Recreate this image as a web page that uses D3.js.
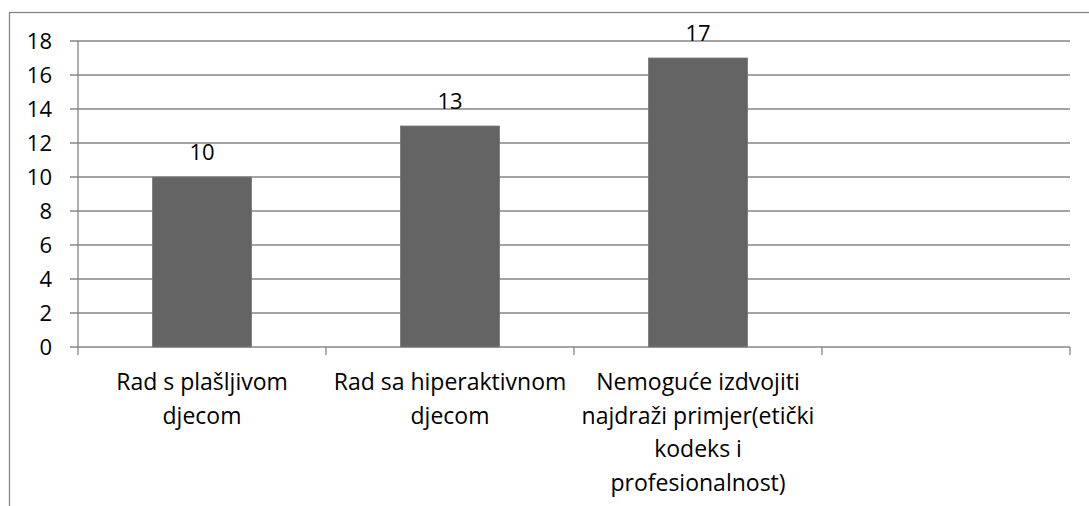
<!DOCTYPE html>
<html lang="hr">
<head>
  <meta charset="UTF-8">
  <title>Najdraži primjer</title>
  <script src="https://d3js.org/d3.v7.min.js"></script>
  <style>
    body { margin: 0; background: #fff; font-family: "Open Sans", sans-serif; }
    svg text { fill: #000; }
  </style>
</head>
<body>
  <svg id="chart" width="1089" height="506"></svg>
  <script>
    // categories (4th slot is empty in the original chart)
    const categories = ["c1", "c2", "c3", "c4"];
    const categoryLabels = [
      ["Rad s plašljivom", "djecom"],
      ["Rad sa hiperaktivnom", "djecom"],
      ["Nemoguće izdvojiti", "najdraži primjer(etički", "kodeks i", "profesionalnost)"],
      []
    ];
    const values = [10, 13, 17, null];
    const yTicks = [0, 2, 4, 6, 8, 10, 12, 14, 16, 18];

    const svg = d3.select("#chart");
    const grey = "#868686";
    const margin = { left: 78, right: 19, top: 41, bottom: 159 };
    const width = 1089 - margin.left - margin.right;
    const height = 506 - margin.top - margin.bottom;

    // outer frame, cropped at right and bottom
    svg.append("rect")
      .attr("x", 9.5).attr("y", 12.5)
      .attr("width", 1200).attr("height", 700)
      .attr("fill", "none").attr("stroke", grey).attr("stroke-width", 1.3);

    const g = svg.append("g")
      .attr("transform", "translate(" + margin.left + "," + margin.top + ")");

    const x = d3.scaleBand().domain(categories).range([0, width]).paddingInner(0.6).paddingOuter(0.3);
    const xOuter = d3.scaleBand().domain(categories).range([0, width]);
    const y = d3.scaleLinear().domain([0, 18]).range([height, 0]);

    // gridlines + y tick marks
    g.selectAll(".grid")
      .data(yTicks)
      .enter().append("line")
      .attr("x1", -8).attr("x2", width)
      .attr("y1", d => y(d)).attr("y2", d => y(d))
      .attr("stroke", grey).attr("stroke-width", 1.3);

    g.selectAll(".ylab")
      .data(yTicks)
      .enter().append("text")
      .attr("x", -26).attr("y", d => y(d))
      .attr("dy", "0.36em")
      .attr("text-anchor", "end")
      .style("font-size", "22px")
      .text(d => d);

    // y axis line
    g.append("line")
      .attr("x1", 0).attr("x2", 0).attr("y1", 0).attr("y2", height)
      .attr("stroke", grey).attr("stroke-width", 1.3);

    // x category ticks
    const xTickPos = categories.map(c => xOuter(c)).concat([width]);
    g.selectAll(".xtick")
      .data(xTickPos)
      .enter().append("line")
      .attr("x1", d => d).attr("x2", d => d)
      .attr("y1", height).attr("y2", height + 8)
      .attr("stroke", grey).attr("stroke-width", 1.3);

    // bars
    const data = categories.map((c, i) => ({ c, v: values[i] })).filter(d => d.v !== null);
    g.selectAll(".bar")
      .data(data)
      .enter().append("rect")
      .attr("x", d => x(d.c))
      .attr("width", x.bandwidth())
      .attr("y", d => y(d.v))
      .attr("height", d => height - y(d.v))
      .attr("fill", "#646464")
      .attr("stroke", "#7a7a7a")
      .attr("stroke-width", 0.8);

    // value labels
    g.selectAll(".val")
      .data(data)
      .enter().append("text")
      .attr("x", d => x(d.c) + x.bandwidth() / 2)
      .attr("y", d => y(d.v) - 25)
      .attr("dy", "0.36em")
      .attr("text-anchor", "middle")
      .style("font-size", "22px")
      .text(d => d.v);

    // category labels
    categories.forEach((c, i) => {
      const t = g.append("text")
        .attr("text-anchor", "middle")
        .attr("transform", "translate(" + (xOuter(c) + xOuter.bandwidth() / 2) + "," + (height + 35) + ")")
        .style("font-size", "23px");
      t.selectAll("tspan")
        .data(categoryLabels[i])
        .enter().append("tspan")
        .attr("x", 0)
        .attr("y", (d, j) => j * 33.5)
        .attr("dy", "0.36em")
        .text(d => d);
    });
  </script>
</body>
</html>
